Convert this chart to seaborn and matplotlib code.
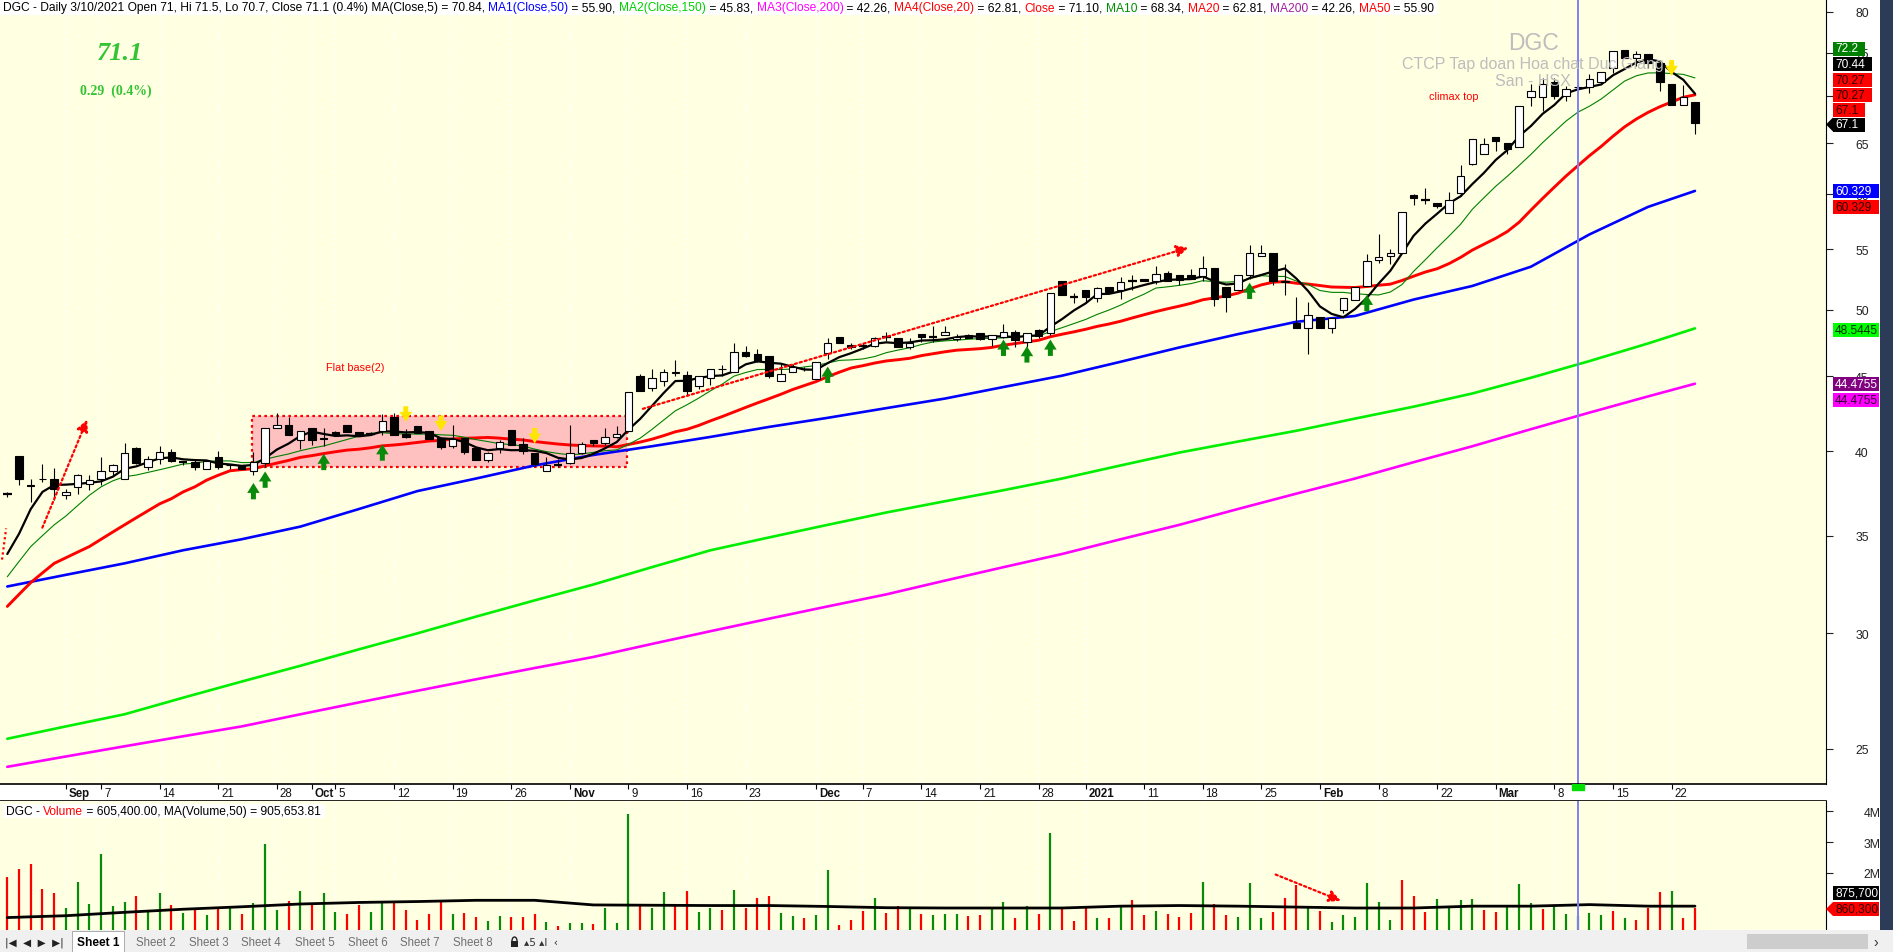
import numpy as np
import pandas as pd
import matplotlib
matplotlib.use("Agg")
import matplotlib.pyplot as plt
import seaborn as sns
from matplotlib.patches import Rectangle, Polygon, Arc
from matplotlib.ticker import NullLocator

# ---------------- data ----------------
first_day = "2020-08-25"
last_day = "2021-03-24"
holidays = ["2020-09-02", "2021-01-01", "2021-02-10", "2021-02-11",
            "2021-02-12", "2021-02-15", "2021-02-16"]

opens = [37.4, 39.7, 37.88, 38.25, 38.3, 37.3, 37.8, 37.95, 38.3, 38.75,
         38.3, 40.2, 39.0, 39.5, 39.95, 39.3, 39.3, 38.9, 39.6, 39.15,
         39.1, 38.75, 39.25, 41.5, 41.7, 40.7, 41.5, 40.8, 41.2, 41.7,
         41.2, 41.1, 41.3, 42.2, 41.1, 41.6, 41.3, 40.85, 40.3, 40.8,
         40.2, 39.45, 40.2, 41.35, 40.45, 39.85, 38.75, 39.1, 39.25, 39.9,
         40.7, 40.5, 40.9, 41.3, 45.0, 44.2, 44.7, 45.25, 45.1, 44.35,
         44.87, 45.5, 45.3, 46.75, 46.6, 46.45, 44.7, 45.3, 45.55, 44.8,
         46.7, 47.9, 47.3, 47.2, 47.2, 47.9, 47.8, 47.1, 48.1, 47.9,
         48.0, 47.75, 48.0, 48.2, 47.7, 47.85, 48.25, 47.5, 48.4, 48.2,
         52.3, 51.0, 51.6, 50.9, 51.8, 51.6, 52.3, 52.45, 52.3, 53.0,
         52.8, 52.8, 52.75, 53.4, 51.8, 51.6, 52.8, 54.4, 54.7, 52.3,
         48.95, 48.55, 49.4, 48.55, 50.0, 50.8, 51.9, 54.1, 54.4, 54.7,
         59.9, 59.4, 59.2, 58.2, 60.1, 62.9, 63.9, 65.7, 65.0, 64.6,
         69.9, 69.9, 71.6, 70.0, 71.0, 71.1, 71.6, 73.2, 75.3, 74.4,
         74.9, 73.75, 71.4, 69.1, 69.4]
highs = [37.5, 39.7, 38.3, 39.2, 38.95, 37.7, 38.6, 38.5, 39.6, 39.2,
         40.5, 40.25, 39.7, 40.3, 40.1, 39.4, 39.45, 39.4, 40.0, 39.2,
         39.1, 39.95, 41.5, 42.5, 42.2, 41.3, 41.5, 41.5, 41.3, 41.7,
         41.25, 41.2, 42.4, 42.5, 41.4, 41.6, 41.3, 40.85, 41.65, 40.8,
         40.2, 39.95, 40.7, 41.35, 40.8, 39.85, 39.6, 39.5, 41.65, 40.6,
         40.7, 41.5, 41.6, 43.9, 45.2, 45.5, 45.5, 46.15, 45.4, 45.0,
         45.5, 45.85, 47.4, 47.2, 46.95, 46.5, 45.9, 45.9, 45.7, 46.0,
         47.8, 47.9, 47.4, 47.4, 47.9, 48.3, 47.8, 47.8, 48.1, 48.7,
         48.7, 48.1, 48.1, 48.2, 48.0, 48.9, 48.4, 48.2, 48.5, 51.3,
         52.3, 51.3, 51.6, 51.8, 51.8, 52.6, 52.8, 52.5, 53.6, 53.1,
         52.8, 53.3, 54.4, 53.4, 51.8, 52.8, 55.4, 55.4, 54.7, 53.7,
         51.0, 50.6, 49.4, 49.35, 50.95, 51.8, 54.6, 56.3, 55.0, 58.35,
         60.0, 60.6, 59.2, 60.2, 62.8, 65.4, 65.5, 65.7, 65.0, 68.9,
         71.4, 72.1, 72.1, 71.2, 71.5, 72.5, 72.8, 75.2, 75.3, 75.2,
         74.9, 73.75, 71.4, 71.3, 69.4]
lows = [37.2, 37.9, 36.9, 38.1, 37.0, 37.1, 37.4, 37.6, 37.9, 38.5,
        38.25, 39.2, 38.8, 39.2, 39.3, 39.1, 38.8, 38.9, 38.9, 38.9,
        38.85, 38.5, 39.0, 41.5, 41.0, 40.1, 40.4, 40.3, 41.0, 41.2,
        41.0, 41.0, 41.0, 41.0, 40.8, 41.15, 40.75, 40.1, 40.2, 39.8,
        39.45, 39.3, 39.85, 40.4, 39.8, 39.05, 38.75, 39.0, 39.2, 39.8,
        40.3, 40.4, 40.8, 41.2, 44.0, 44.0, 44.3, 45.0, 43.6, 44.1,
        44.4, 45.0, 45.3, 46.4, 46.0, 44.9, 44.7, 45.3, 45.4, 44.8,
        46.25, 47.4, 47.0, 47.0, 47.1, 47.6, 47.1, 47.0, 47.5, 47.5,
        48.0, 47.6, 47.8, 47.65, 47.2, 47.8, 47.1, 47.1, 47.8, 48.0,
        51.2, 50.5, 50.6, 50.6, 51.4, 50.85, 51.6, 52.3, 52.1, 52.3,
        52.0, 52.45, 52.3, 50.3, 49.8, 51.6, 52.5, 54.4, 52.0, 51.2,
        48.55, 46.6, 48.55, 48.2, 49.7, 50.8, 51.9, 53.85, 53.7, 54.7,
        59.0, 59.1, 58.7, 58.2, 59.8, 62.8, 63.9, 64.2, 63.9, 64.6,
        68.9, 68.4, 69.7, 69.5, 70.7, 70.4, 71.4, 72.6, 74.4, 73.4,
        73.2, 70.6, 69.1, 69.1, 66.0]
closes = [37.4, 38.26, 37.9, 38.3, 37.7, 37.5, 38.5, 38.2, 38.75, 39.1,
          39.9, 39.25, 39.5, 39.95, 39.4, 39.3, 39.0, 39.4, 39.0, 39.1,
          38.85, 39.3, 41.5, 41.7, 41.0, 41.3, 40.7, 40.75, 41.05, 41.2,
          41.0, 41.1, 41.95, 41.0, 40.9, 41.15, 40.75, 40.25, 40.75, 39.95,
          39.45, 39.85, 40.6, 40.4, 40.0, 39.2, 39.15, 39.1, 39.9, 40.45,
          40.5, 40.9, 41.1, 43.9, 44.0, 44.85, 45.3, 45.3, 44.0, 45.0,
          45.5, 45.55, 46.75, 46.5, 46.1, 45.0, 45.2, 45.65, 45.5, 46.0,
          47.4, 47.4, 47.1, 47.2, 47.8, 47.9, 47.1, 47.4, 47.9, 47.9,
          48.25, 47.9, 47.8, 47.7, 48.0, 48.25, 47.65, 48.2, 47.95, 51.3,
          51.2, 51.0, 51.0, 51.7, 51.4, 52.2, 52.3, 52.3, 52.9, 52.3,
          52.4, 52.45, 53.4, 50.85, 51.0, 52.8, 54.7, 54.7, 52.3, 52.25,
          48.55, 49.6, 48.55, 49.35, 50.95, 51.8, 54.0, 54.35, 54.65, 58.35,
          59.6, 59.4, 58.85, 59.4, 61.7, 65.4, 64.9, 65.2, 64.4, 68.9,
          70.6, 71.4, 70.0, 70.8, 71.1, 71.95, 72.8, 75.2, 74.4, 74.9,
          73.8, 71.6, 69.1, 69.9, 67.1]

# volume in millions of shares, and bar colour (g = green, r = red)
volumes = [1.86, 2.13, 2.29, 1.49, 1.35, 0.87, 1.70, 1.00, 2.60, 0.93, 1.06,
           1.25, 0.76, 1.35, 0.97, 0.71, 0.87, 0.62, 0.90, 0.85, 0.65,
           1.03, 2.95, 0.81, 1.08, 1.41, 1.03, 1.35, 0.74, 0.68, 0.97,
           0.73, 1.08, 1.06, 0.78, 0.48, 0.65, 1.04, 0.68, 0.71, 0.58,
           0.45, 0.59, 0.56, 0.57, 0.68, 0.42, 0.29, 0.38, 0.37, 0.33,
           0.85, 0.37, 3.91, 0.97, 0.87, 1.38, 1.00, 1.41, 0.74, 0.87,
           0.81, 1.45, 0.87, 1.20, 1.25, 0.71, 0.60, 0.52, 0.62, 2.10,
           0.30, 0.48, 0.76, 1.17, 0.71, 0.93, 0.84, 0.68, 0.63, 0.65,
           0.65, 0.59, 0.62, 0.87, 1.06, 0.52, 0.91, 0.68, 3.30, 0.88,
           0.44, 0.88, 0.52, 0.52, 0.88, 1.13, 0.62, 0.76, 0.68, 0.58,
           0.71, 1.70, 1.00, 0.62, 0.58, 1.67, 0.55, 0.74, 1.19, 1.60,
           0.88, 0.77, 0.42, 0.64, 0.58, 1.67, 1.06, 0.48, 1.77, 1.25,
           0.74, 1.16, 0.88, 1.13, 1.16, 0.80, 0.74, 0.90, 1.64, 1.03,
           0.84, 0.91, 0.65, 0.605, 0.71, 0.62, 0.77, 0.55, 0.48, 0.87,
           1.38, 1.41, 0.55, 0.86]
vol_colors = ("rrrrrggggggrggrgrgrgrgggrgrggrrggrrrrrgrrggrrrgrggrggg"
              "rggrrggrgrrrggrggrrrgrrgrgg"
              "grrggrgrgrrrgrgrrgrrrgrrgggrrrgrggggggrrrggggrrgggrggggg"
              "rgrrrgr")

# moving averages that need history before the window: lead-in values
ma5_head = [34.0, 35.1, 36.5, 37.5]
ma10_head = [32.8, 33.6, 34.4, 35.0, 35.6, 36.1, 36.7, 37.3, 37.8]
ma20_head = [31.3, 31.9, 32.5, 33.0, 33.5, 33.8, 34.1, 34.4, 34.8, 35.2,
             35.6, 36.0, 36.4, 36.8, 37.1, 37.5, 37.8, 38.2, 38.5]

# long moving averages read every 5 bars
ma_long_idx = list(range(0, 141, 5)) + [144]
ma50 = [32.3, 32.9, 33.5, 34.2, 34.8, 35.5, 36.5, 37.55, 38.3, 39.1,
        39.75, 40.3, 40.9, 41.55, 42.15, 42.8, 43.45, 44.25, 45.05, 46.05,
        47.1, 48.1, 49.05, 49.5, 50.8, 51.9, 53.5, 56.3, 58.8, 60.3]
ma150 = [25.4, 25.9, 26.4, 27.1, 27.8, 28.5, 29.25, 30.0, 30.8, 31.6,
         32.4, 33.3, 34.2, 34.9, 35.6, 36.3, 36.95, 37.6, 38.3, 39.1,
         39.9, 40.6, 41.3, 42.1, 42.9, 43.8, 44.9, 46.1, 47.4, 48.54]
ma200 = [24.3, 24.7, 25.1, 25.5, 25.9, 26.4, 26.9, 27.4, 27.9, 28.4,
         28.9, 29.5, 30.1, 30.7, 31.3, 31.9, 32.6, 33.3, 34.0, 34.8,
         35.6, 36.5, 37.4, 38.3, 39.3, 40.3, 41.4, 42.5, 43.6, 44.48]
vol_ma50 = [0.55, 0.61, 0.72, 0.82, 0.90, 0.99, 1.04, 1.07, 1.11, 1.11,
            0.96, 0.95, 0.94, 0.94, 0.91, 0.87, 0.86, 0.86, 0.86, 0.92,
            0.94, 0.92, 0.89, 0.86, 0.86, 0.92, 0.92, 0.97, 0.92, 0.92]

cursor_bar = 134
up_arrow_bars = [21, 22, 27, 32, 70, 85, 87, 89, 106, 116]
up_arrow_tips = [38.2, 38.9, 40.0, 40.6, 45.9, 47.9, 47.4, 47.9, 52.4, 51.4]
down_arrow_bars = [34, 37, 45, 142]
down_arrow_tips = [41.7, 41.1, 40.3, 72.0]

# ---------------- figure ----------------
W, H = 1893, 953
sns.set_style("white")
plt.rcParams["font.family"] = ["Liberation Sans", "DejaVu Sans"]

CREAM = "#FFFFE1"
fig = plt.figure(figsize=(W / 100, H / 100), dpi=100, facecolor="white")
ax = fig.add_axes([0, 1 - 785 / H, 1826 / W, 785 / H])
axd = fig.add_axes([0, 1 - 802 / H, 1826 / W, 17 / H])
axv = fig.add_axes([0, 1 - 931 / H, 1826 / W, 129 / H])

n = len(closes)
x = np.arange(n)
o = np.array(opens); h = np.array(highs); l = np.array(lows); c = np.array(closes)
dates = pd.bdate_range(first_day, last_day, freq="C", holidays=holidays)
XLIM = (-0.623, 155.18)

# date ticks: first bar of month gets the month name, Mondays the day number
tick_pos, tick_lab, tick_bold = [], [], []
for i, d in enumerate(dates):
    if i > 0 and d.month != dates[i - 1].month:
        tick_pos.append(i)
        tick_lab.append(str(d.year) if d.month == 1 else d.strftime("%b"))
        tick_bold.append(True)
    elif d.weekday() == 0:
        if any(j < n and dates[j].month != d.month for j in (i + 1, i + 2)):
            continue
        tick_pos.append(i)
        tick_lab.append(str(d.day))
        tick_bold.append(False)

# ---- price pane ----
ax.set_facecolor(CREAM)
ax.set_yscale("log")
ax.set_xlim(*XLIM)
ax.set_ylim(23.65, 81.63)
for p in tick_pos:
    ax.axvline(p, color="white", lw=1.0, ls=(0, (2, 2)), zorder=0.5)

# flat base box
ax.add_patch(Rectangle((20.9, 39.0), 32.0, 3.3, fc="#FFC0C0", ec="red",
                       lw=1.6, ls=(0, (1.2, 1.5)), zorder=1))

s_close = pd.Series(c)
m5 = s_close.rolling(5).mean().to_numpy(); m5[:4] = ma5_head
m10 = s_close.rolling(10).mean().to_numpy(); m10[:9] = ma10_head
m20 = s_close.rolling(20).mean().to_numpy(); m20[:19] = ma20_head


def line(axis, xs, ys, color, lw, z):
    sns.lineplot(x=xs, y=ys, ax=axis, color=color, linewidth=lw,
                 estimator=None, sort=False, zorder=z, legend=False)


line(ax, ma_long_idx, ma200, "#FF00FF", 1.9, 2)
line(ax, ma_long_idx, ma150, "#00EE00", 1.9, 2)
line(ax, ma_long_idx, ma50, "#0000FF", 1.9, 2.1)
line(ax, x, m20, "#FF0000", 2.1, 2.2)
line(ax, x, m10, "#008000", 0.8, 2.3)
line(ax, x, m5, "black", 1.6, 2.4)

# candles
ax.vlines(x, l, h, color="black", lw=0.8, zorder=4)
rise = c > o
fall = c < o
flat = ~(rise | fall)
ax.bar(x[rise], (c - o)[rise], bottom=o[rise], width=0.64, color="white",
       edgecolor="black", linewidth=0.8, zorder=5)
ax.bar(x[fall], (o - c)[fall], bottom=c[fall], width=0.64, color="black",
       edgecolor="black", linewidth=0.8, zorder=5)
ax.hlines(c[flat], x[flat] - 0.36, x[flat] + 0.36, color="black", lw=1.6, zorder=5)

# signal arrows
arrow_shape = "simple,head_length=0.8,head_width=1.0,tail_width=0.4"
for b, tip in zip(up_arrow_bars, up_arrow_tips):
    ax.annotate("", xy=(b, tip), xytext=(b, tip * 0.966),
                arrowprops=dict(arrowstyle=arrow_shape, color="#0A8A0A", lw=0,
                                mutation_scale=9), zorder=6)
for b, tip in zip(down_arrow_bars, down_arrow_tips):
    ax.annotate("", xy=(b, tip), xytext=(b, tip * 1.034),
                arrowprops=dict(arrowstyle=arrow_shape, color="#FFE600", lw=0,
                                mutation_scale=9), zorder=6)

# hand-drawn dotted trend arrows
red_arrow = dict(arrowstyle="-|>,head_length=0.7,head_width=0.35", color="red",
                 lw=1.6, ls=(0, (1, 1.3)), mutation_scale=10)
ax.annotate("", xy=(6.9, 42.2), xytext=(2.9, 35.3), arrowprops=red_arrow, zorder=6)
ax.annotate("", xy=(101, 55.2), xytext=(54, 42.7), arrowprops=red_arrow, zorder=6)
ax.plot([-0.45, -0.1], [33.7, 35.4], color="red", lw=1.6, ls=(0, (1, 1.3)), zorder=6)

ax.text(29.7, 45.7, "Flat base(2)", color="red", fontsize=7.8, ha="center", va="center")
ax.text(123.4, 70.0, "climax top", color="red", fontsize=7.8, ha="center", va="center")

ax.axvline(cursor_bar, color="#8080F8", lw=1.4, zorder=7)

ax.yaxis.tick_right()
ax.set_yticks([25, 30, 35, 40, 45, 50, 55, 60, 65, 70, 75, 80],
              labels=["25", "30", "35", "40", "45", "50", "55", "60", "65", "70", "75", "80"])
ax.yaxis.set_minor_locator(NullLocator())
ax.tick_params(axis="y", direction="out", length=5, width=0.8, pad=16, labelsize=8.8,
               colors="#222222")
ax.set_xticks([])
ax.set_xlabel(""); ax.set_ylabel("")
for s in ("left", "top", "bottom"):
    ax.spines[s].set_visible(False)
ax.spines["right"].set_color("black")

# ---- date band ----
axd.set_facecolor("white")
axd.set_xlim(*XLIM); axd.set_ylim(0, 1)
axd.set_xticks([]); axd.set_yticks([])
for s in ("left", "right"):
    axd.spines[s].set_visible(False)
for s in ("top", "bottom"):
    axd.spines[s].set_color("black"); axd.spines[s].set_linewidth(1.2)
for p, lab, b in zip(tick_pos, tick_lab, tick_bold):
    axd.vlines(p, 0.72, 1.0, color="black", lw=0.8)
    axd.text(p + 0.25, 0.45, lab, ha="left", va="center", fontsize=8.3,
             fontweight="bold" if b else "normal", color="#111111")
axd.add_patch(Rectangle((cursor_bar - 0.5, 0.62), 1.0, 0.38, color="#00E000", zorder=5))

# ---- volume pane ----
axv.set_facecolor(CREAM)
axv.set_xlim(*XLIM)
axv.set_ylim(0.146, 4.334)
for p in tick_pos:
    axv.axvline(p, color="white", lw=1.0, ls=(0, (2, 2)), zorder=0.5)
vcol = ["#0A8A0A" if k == "g" else "#FF0000" for k in vol_colors]
axv.vlines(x, 0, volumes, colors=vcol, lw=1.6, zorder=2)
line(axv, ma_long_idx, vol_ma50, "black", 2.0, 3)
axv.annotate("", xy=(114, 1.06), xytext=(108, 1.98), arrowprops=red_arrow, zorder=6)
axv.axvline(cursor_bar, color="#8080F8", lw=1.4, zorder=7)
axv.yaxis.tick_right()
axv.set_yticks([2, 3, 4], labels=["2M", "3M", "4M"])
axv.yaxis.set_minor_locator(NullLocator())
axv.tick_params(axis="y", direction="out", length=5, width=0.8, pad=22, labelsize=8.8,
                colors="#222222")
axv.set_xticks([])
axv.set_xlabel(""); axv.set_ylabel("")
for s in ("left", "top", "bottom"):
    axv.spines[s].set_visible(False)
axv.spines["right"].set_color("black")


# ---- helpers in figure pixel coordinates ----
def fx(px):
    return px / W


def fy(py):
    return 1 - py / H


renderer = fig.canvas.get_renderer()


def text_width(s, **kw):
    t1 = fig.text(0, 0, s + "I", **kw)
    t0 = fig.text(0, 0, "I", **kw)
    w = t1.get_window_extent(renderer).width - t0.get_window_extent(renderer).width
    t1.remove(); t0.remove()
    return w


def seq_text(x0, yc, parts, target_w, base=10):
    full = "".join(p for p, _ in parts)
    size = base * target_w / text_width(full, fontsize=base)
    xpos = x0
    for s, col in parts:
        fig.text(fx(xpos), fy(yc), s, color=col, fontsize=size, ha="left", va="center",
                 zorder=8)
        xpos += text_width(s, fontsize=size)


def box(x0, x1, yc, txt, bg, fg, hgt=14, pointer=False):
    fig.patches.append(Rectangle((fx(x0), fy(yc + hgt / 2)), (x1 - x0) / W, hgt / H,
                                 transform=fig.transFigure, fc=bg, ec="none", zorder=5))
    if pointer:
        fig.patches.append(Polygon([(fx(x0 - 7), fy(yc)), (fx(x0), fy(yc - hgt / 2)),
                                    (fx(x0), fy(yc + hgt / 2))],
                                   transform=fig.transFigure, fc=bg, ec="none", zorder=5))
    fig.text(fx(x0 + 2), fy(yc), txt, color=fg, fontsize=8.6, ha="left", va="center", zorder=6)


# header line
fig.patches.append(Rectangle((0, fy(16)), fx(1437), 16 / H, transform=fig.transFigure,
                             fc="white", ec="none", zorder=4))
header_parts = [
    ("DGC - Daily 3/10/2021 Open 71, Hi 71.5, Lo 70.7, Close 71.1 (0.4%) MA(Close,5) = 70.84, ", "black"),
    ("MA1(Close,50)", "#0000FF"), (" = 55.90, ", "black"),
    ("MA2(Close,150)", "#00D000"), (" = 45.83, ", "black"),
    ("MA3(Close,200)", "#FF00FF"), (" = 42.26, ", "black"),
    ("MA4(Close,20)", "#FF0000"), (" = 62.81, ", "black"),
    ("Close", "#FF0000"), (" = 71.10, ", "black"),
    ("MA10", "#009000"), (" = 68.34, ", "black"),
    ("MA20", "#FF0000"), (" = 62.81, ", "black"),
    ("MA200", "#A020A0"), (" = 42.26, ", "black"),
    ("MA50", "#FF0000"), (" = 55.90", "black"),
]
seq_text(3, 8.5, header_parts, 1430)

fig.text(fx(97), fy(53), "71.1", color="#33C433", fontsize=19, family="Liberation Serif",
         fontweight="bold", style="italic", ha="left", va="center")
fig.text(fx(80), fy(91.5), "0.29  (0.4%)", color="#33C433", fontsize=10,
         family="Liberation Serif", fontweight="bold", ha="left", va="center")

# watermark
fig.text(fx(1533), fy(43.5), "DGC", color="#BDBDBD", fontsize=16.5, ha="center", va="center")
fig.text(fx(1533), fy(64), "CTCP Tap doan Hoa chat Duc Giang", color="#BDBDBD",
         fontsize=11.5, ha="center", va="center")
fig.text(fx(1533), fy(82), "San - HSX", color="#BDBDBD", fontsize=11.5, ha="center", va="center")

# right axis value boxes
box(1833, 1865, 49.5, "72.2", "#008000", "white")
box(1833, 1872, 65.3, "70.44", "black", "white")
box(1833, 1872, 80.6, "70.27", "#FF0000", "#300000")
box(1833, 1872, 96.0, "70.27", "#FF0000", "#300000")
box(1833, 1865, 110.7, "67.1", "#FF0000", "#300000")
box(1833, 1865, 125.5, "67.1", "black", "white", pointer=True)
box(1833, 1879, 192.3, "60.329", "#0000FF", "white")
box(1833, 1879, 207.7, "60.329", "#FF0000", "#300000")
box(1833, 1879, 330.6, "48.5445", "#00FF00", "#003000")
box(1833, 1879, 385.2, "44.4755", "#800080", "white")
box(1833, 1879, 400.5, "44.4755", "#FF00FF", "#300030")
box(1833, 1879, 894, "875,700", "black", "white")
box(1833, 1879, 910, "860,300", "#FF0000", "#300000", pointer=True)

# volume title
fig.patches.append(Rectangle((fx(3), fy(819)), fx(322), 14 / H, transform=fig.transFigure,
                             fc="white", ec="none", zorder=4))
seq_text(6, 812, [("DGC - ", "black"), ("Volume", "#FF0000"),
                  (" = 605,400.00, MA(Volume,50) = 905,653.81", "black")], 314)

# right dark border
fig.patches.append(Rectangle((fx(1880), fy(931)), fx(13), 931 / H, transform=fig.transFigure,
                             fc="#2C3C58", ec="none", zorder=7))

# sheet tab bar
fig.patches.append(Rectangle((0, 0), 1, 22 / H, transform=fig.transFigure,
                             fc="#F0F0F0", ec="none", zorder=3))
fig.patches.append(Rectangle((fx(72), 0), fx(52), 21 / H, transform=fig.transFigure,
                             fc="white", ec="#A0A0A0", lw=0.6, zorder=4))
fig.text(fx(5), fy(943), "|◀  ◀  ▶  ▶|", fontsize=7.5, color="#222222", ha="left", va="center",
         family=["DejaVu Sans"], zorder=6)
fig.text(fx(77), fy(943), "Sheet 1", fontsize=8.6, fontweight="bold", color="black",
         ha="left", va="center", zorder=6)
for k, xs in enumerate([136, 189, 241, 295, 348, 400, 453]):
    fig.text(fx(xs), fy(943), f"Sheet {k + 2}", fontsize=8.3, color="#707070",
             ha="left", va="center", zorder=6)
# small padlock icon (no installed font has the glyph)
fig.patches.append(Rectangle((fx(511), fy(948)), fx(7), 6 / H, transform=fig.transFigure,
                             fc="#222222", ec="none", zorder=6))
fig.patches.append(Arc((fx(514.5), fy(942)), fx(5), 8 / H, theta1=0, theta2=180,
                       transform=fig.transFigure, color="#222222", lw=1.0, zorder=6))
fig.text(fx(524), fy(943), "▴5 ▴I  ‹", fontsize=7.5, color="#333333", ha="left",
         va="center", family=["DejaVu Sans"], zorder=6)
fig.patches.append(Rectangle((fx(1747), fy(950)), fx(121), 15 / H, transform=fig.transFigure,
                             fc="#CDCDCD", ec="none", zorder=4))
fig.text(fx(1876), fy(943), "›", fontsize=10, color="#333333", ha="center", va="center",
         zorder=6)

fig.savefig("out.png", dpi=100, facecolor="white")
